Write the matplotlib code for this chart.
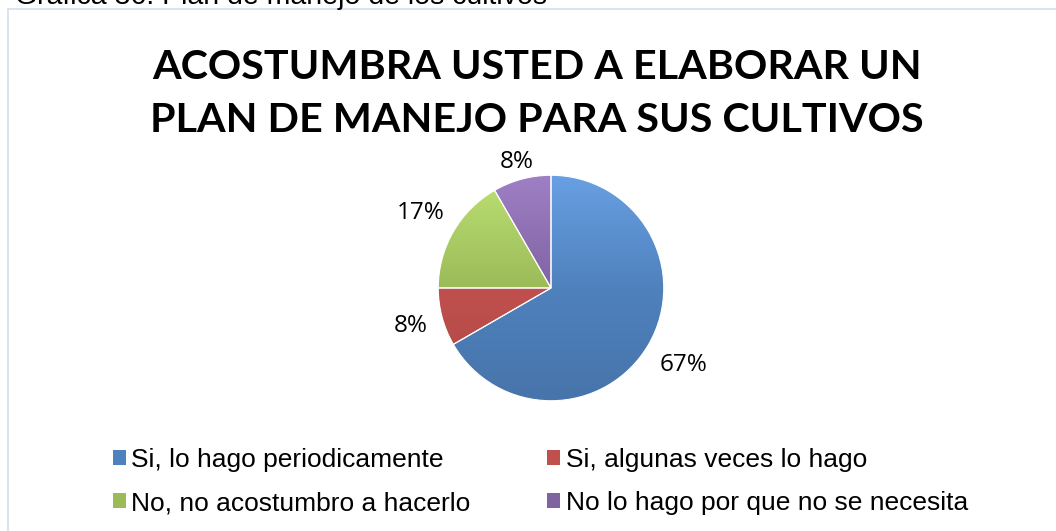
import matplotlib

matplotlib.use("Agg")

import matplotlib.pyplot as plt
import numpy as np
from matplotlib.colors import LinearSegmentedColormap, to_rgb
from matplotlib.patches import Patch, Rectangle

# survey answers (count of farmers)
categories = [
    "Si, lo hago periodicamente",
    "Si, algunas veces lo hago",
    "No, no acostumbro a hacerlo",
    "No lo hago por que no se necesita",
]
counts = [8, 1, 2, 1]
slice_colors = ["#4F81BD", "#C0504D", "#9BBB59", "#8064A2"]
label_dist = [1.36, 1.29, 1.33, 1.16]

title = "ACOSTUMBRA USTED A ELABORAR UN\nPLAN DE MANEJO PARA SUS CULTIVOS"
caption = "Gráfica 36. Plan de manejo de los cultivos"

W, H = 1056, 531
fig = plt.figure(figsize=(W / 100, H / 100), dpi=100)

# chart border and the caption above it
fig.patches.append(Rectangle((8 / W, -0.1), 1.2, (H - 8.5) / H + 0.1,
                             transform=fig.transFigure, fill=False,
                             edgecolor="#D3DEEC", linewidth=1.2))
fig.text(15 / W, 1 - 4 / H, caption, fontsize=20.5, family="Liberation Sans",
         ha="left", va="baseline", color="black")

fig.text(537 / W, 1 - 94 / H, title, fontsize=29.7, family="Lato",
         fontweight="bold", ha="center", va="center", linespacing=1.54)

# pie
r_px = 115
cx, cy = 551, 288
ax = fig.add_axes([(cx - r_px) / W, (H - cy - r_px) / H, 2 * r_px / W, 2 * r_px / H])
wedges, _ = ax.pie(counts, colors=slice_colors, startangle=90, counterclock=False,
                   wedgeprops=dict(edgecolor="white", linewidth=0.8))

# vertical shading on each slice, lighter at the top
total = sum(counts)
for w, col in zip(wedges, slice_colors):
    base = np.array(to_rgb(col))
    light = np.clip(base * 1.12 + 0.06, 0, 1)
    dark = base * 0.9
    cmap = LinearSegmentedColormap.from_list("g", [dark, base, light])
    grad = np.linspace(0, 1, 256).reshape(-1, 1)
    im = ax.imshow(grad, cmap=cmap, origin="lower", extent=(-1, 1, -1, 1),
                   aspect="auto", zorder=w.get_zorder())
    im.set_clip_path(w)
    w.set_facecolor("none")
    w.set_zorder(w.get_zorder() + 1)

ax.set_xlim(-1.02, 1.02)
ax.set_ylim(-1.02, 1.02)
ax.set_aspect("equal")

for w, n, d in zip(wedges, counts, label_dist):
    ang = np.deg2rad((w.theta1 + w.theta2) / 2)
    ax.text(d * np.cos(ang), d * np.sin(ang), f"{n / total * 100:.0f}%",
            ha="center", va="center", fontsize=17.5, family="Open Sans",
            clip_on=False)

# legend, filled row by row (two columns)
order = [0, 2, 1, 3]
handles = [Patch(facecolor=slice_colors[i], edgecolor="none") for i in order]
labels = [categories[i] for i in order]
fig.legend(handles, labels, loc="upper left", bbox_to_anchor=(113 / W, 1 - 448 / H),
           ncol=2, frameon=False, prop=dict(family="Liberation Sans", size=19),
           handlelength=0.5, handleheight=0.5, handletextpad=0.2,
           columnspacing=2.9, labelspacing=0.72, borderpad=0, borderaxespad=0)

fig.savefig("out.png", dpi=100)
